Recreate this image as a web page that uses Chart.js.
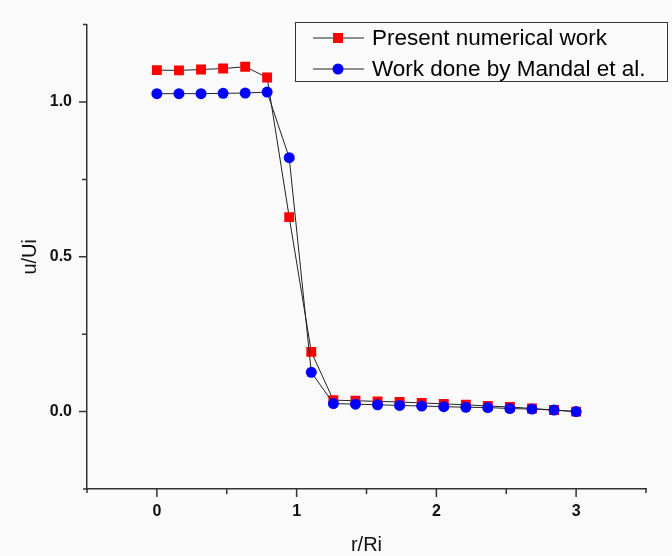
<!DOCTYPE html>
<html>
<head>
<meta charset="utf-8">
<script src="https://cdn.jsdelivr.net/npm/chart.js@4"></script>
<style>
  html, body { margin: 0; padding: 0; background: #fafafa; }
  #wrap { width: 672px; height: 556px; }
</style>
</head>
<body>
<div id="wrap"><canvas id="chart" width="672" height="556"></canvas></div>
<script>
// r/Ri positions
const rValues = [0, 0.158, 0.316, 0.474, 0.632, 0.789, 0.947, 1.105, 1.263, 1.421,
                 1.579, 1.737, 1.895, 2.053, 2.211, 2.368, 2.526, 2.684, 2.842, 3.0];
// u/Ui, present numerical work
const presentWork = [1.103, 1.102, 1.105, 1.108, 1.114, 1.079, 0.628, 0.193, 0.037, 0.035,
                     0.033, 0.031, 0.028, 0.025, 0.022, 0.018, 0.015, 0.010, 0.005, 0.000];
// u/Ui, Mandal et al.
const mandalWork = [1.027, 1.027, 1.027, 1.028, 1.029, 1.032, 0.820, 0.127, 0.026, 0.024,
                    0.022, 0.020, 0.018, 0.016, 0.014, 0.013, 0.010, 0.008, 0.005, 0.000];
const seriesNames = ['Present numerical work', 'Work done by Mandal et al.'];
const xTickLabels = ['0', '1', '2', '3'];
const yTickLabels = ['0.0', '0.5', '1.0'];

const toPoints = ys => rValues.map((x, i) => ({ x: x, y: ys[i] }));
const isHalf = v => Math.abs(v * 2 - Math.round(v * 2)) < 1e-6;

// axis ticks: long ones at labelled values, short ones elsewhere
const tickPlugin = {
  id: 'ticks',
  afterDraw(chart) {
    const ctx = chart.ctx;
    const xs = chart.scales.x, ys = chart.scales.y;
    ctx.save();
    ctx.strokeStyle = '#333';
    ctx.lineWidth = 1.5;
    ctx.beginPath();
    xs.ticks.forEach(t => {
      const px = xs.getPixelForValue(t.value);
      const major = xTickLabels.includes(String(t.value));
      const edge = t.value === xs.min || t.value === xs.max;
      const len = major ? 8 : (edge ? 4 : 5);
      ctx.moveTo(px, ys.bottom);
      ctx.lineTo(px, ys.bottom + len);
    });
    ys.ticks.forEach(t => {
      const py = ys.getPixelForValue(t.value);
      const major = isHalf(t.value) && yTickLabels.includes(t.value.toFixed(1));
      const edge = t.value === ys.min || t.value === ys.max;
      const len = major ? 8 : (edge ? 4 : 5);
      ctx.moveTo(xs.left, py);
      ctx.lineTo(xs.left - len, py);
    });
    ctx.stroke();
    ctx.restore();
  }
};

// boxed legend with line + marker samples
const legendPlugin = {
  id: 'boxLegend',
  afterDraw(chart) {
    const ctx = chart.ctx;
    ctx.save();
    ctx.strokeStyle = '#333';
    ctx.lineWidth = 1;
    ctx.strokeRect(295.5, 22.5, 372, 59);
    const rows = [38, 69];
    chart.data.datasets.forEach((ds, i) => {
      const y = rows[i];
      ctx.strokeStyle = '#222';
      ctx.lineWidth = 1;
      ctx.beginPath();
      ctx.moveTo(313, y);
      ctx.lineTo(364, y);
      ctx.stroke();
      ctx.fillStyle = ds.pointBackgroundColor;
      if (ds.pointStyle === 'rect') {
        ctx.fillRect(333, y - 5, 10, 10);
      } else {
        ctx.beginPath();
        ctx.arc(338, y, 5.5, 0, Math.PI * 2);
        ctx.fill();
      }
      ctx.fillStyle = '#000';
      ctx.font = '22.5px Arial, "Liberation Sans", sans-serif';
      ctx.textBaseline = 'middle';
      ctx.fillText(ds.label, 372, y + 1);
    });
    ctx.restore();
  }
};

const tickFont = { family: 'Arial, "Liberation Sans", sans-serif', size: 16, weight: 'bold' };
const titleFont = { family: 'Arial, "Liberation Sans", sans-serif', size: 20, lineHeight: 1.1 };

new Chart(document.getElementById('chart'), {
  type: 'scatter',
  data: {
    datasets: [
      {
        label: seriesNames[0],
        data: toPoints(presentWork),
        showLine: true,
        borderColor: '#222',
        borderWidth: 1,
        pointStyle: 'rect',
        pointRadius: 7,
        pointHoverRadius: 7,
        pointBackgroundColor: '#ff0000',
        pointBorderWidth: 0,
        order: 2
      },
      {
        label: seriesNames[1],
        data: toPoints(mandalWork),
        showLine: true,
        borderColor: '#222',
        borderWidth: 1,
        pointStyle: 'circle',
        pointRadius: 5.5,
        pointHoverRadius: 5.5,
        pointBackgroundColor: '#0000ff',
        pointBorderWidth: 0,
        order: 1
      }
    ]
  },
  options: {
    responsive: false,
    animation: false,
    layout: { padding: { left: 0, right: 26, top: 19, bottom: 0 } },
    plugins: { legend: { display: false }, tooltip: { enabled: false } },
    scales: {
      x: {
        type: 'linear',
        min: -0.5,
        max: 3.5,
        afterFit: s => { s.height = 67; },
        grid: { display: false, drawTicks: false },
        border: { display: true, color: '#333', width: 1.5 },
        ticks: {
          stepSize: 0.5,
          autoSkip: false,
          maxRotation: 0,
          padding: 13,
          color: '#111',
          font: tickFont,
          callback: v => xTickLabels.includes(String(v)) ? String(v) : ''
        },
        title: { display: true, text: 'r/Ri', color: '#111', font: titleFont, padding: 0 }
      },
      y: {
        type: 'linear',
        min: -0.25,
        max: 1.25,
        afterFit: s => { s.width = 87; },
        grid: { display: false, drawTicks: false },
        border: { display: true, color: '#333', width: 1.5 },
        ticks: {
          stepSize: 0.25,
          autoSkip: false,
          padding: 15,
          color: '#111',
          font: tickFont,
          callback: v => (isHalf(v) && yTickLabels.includes(v.toFixed(1))) ? v.toFixed(1) : ''
        },
        title: { display: true, text: 'u/Ui', color: '#111', font: titleFont, padding: { top: 19, bottom: 0 } }
      }
    }
  },
  plugins: [tickPlugin, legendPlugin]
});
</script>
</body>
</html>
